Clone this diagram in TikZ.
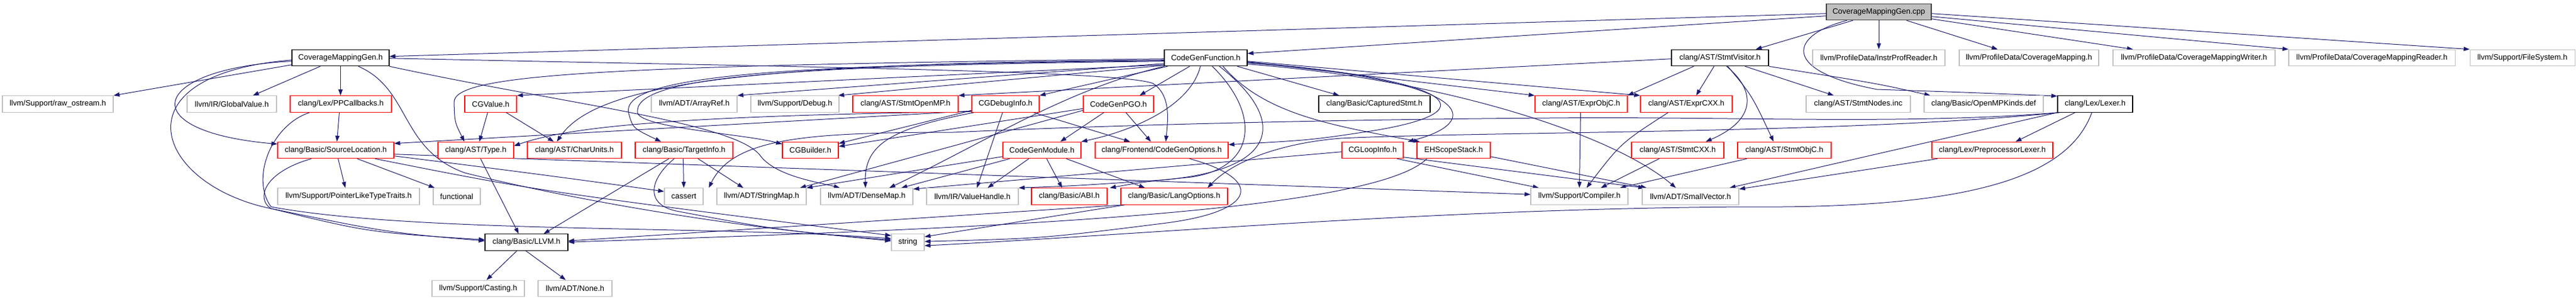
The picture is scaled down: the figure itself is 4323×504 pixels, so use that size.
\documentclass[tikz,border=0pt]{standalone}
\usepackage{fontspec}
\setmainfont{Liberation Sans}
\usetikzlibrary{arrows.meta,backgrounds}
\definecolor{edgec}{RGB}{25,25,112}
\definecolor{grayb}{RGB}{191,191,191}
\definecolor{rootb}{RGB}{64,64,64}
\begin{document}
\begin{tikzpicture}[x=1pt,y=-1pt,
  box/.style={draw, rectangle, inner sep=0pt, minimum height=27.5pt, line width=1.1pt, font=\fontsize{13}{15}\selectfont, fill=white},
  blk/.style={box, draw=black},
  gry/.style={box, draw=grayb},
  rd/.style={box, draw=red},
  rootn/.style={box, draw=rootb, fill=grayb},
  dep/.style={draw=edgec, line width=1pt, -{Triangle[length=10pt,width=7pt]}},
]
\useasboundingbox (0,0) rectangle (4323,504);
% row 0
\node[rootn, minimum width=176pt] (root) at (3153,20) {CoverageMappingGen.cpp};
% row 1
\node[blk, minimum width=163pt] (cmgh) at (571.5,97) {CoverageMappingGen.h};
\node[blk, minimum width=139pt] (cgf) at (2023.5,97) {CodeGenFunction.h};
\node[blk, minimum width=163pt] (sv) at (2886.5,97) {clang/AST/StmtVisitor.h};
\node[gry, minimum width=222pt] (ipr) at (3153,97) {llvm/ProfileData/InstrProfReader.h};
\node[gry, minimum width=234pt] (cm) at (3405,97) {llvm/ProfileData/CoverageMapping.h};
\node[gry, minimum width=272pt] (cmw) at (3682,97) {llvm/ProfileData/CoverageMappingWriter.h};
\node[gry, minimum width=279pt] (cmr) at (3980.5,97) {llvm/ProfileData/CoverageMappingReader.h};
\node[gry, minimum width=176pt] (fs) at (4233,97) {llvm/Support/FileSystem.h};
% row 2
\node[gry, minimum width=186pt] (raw) at (97,174.5) {llvm/Support/raw\_ostream.h};
\node[gry, minimum width=150pt] (gv) at (389,174.5) {llvm/IR/GlobalValue.h};
\node[rd, minimum width=170pt] (ppc) at (572,174.5) {clang/Lex/PPCallbacks.h};
\node[rd, minimum width=87pt] (cgv) at (823.5,174.5) {CGValue.h};
\node[gry, minimum width=144pt] (aref) at (1165,174.5) {llvm/ADT/ArrayRef.h};
\node[gry, minimum width=148pt] (dbg) at (1334,174.5) {llvm/Support/Debug.h};
\node[rd, minimum width=177pt] (somp) at (1519.5,174.5) {clang/AST/StmtOpenMP.h};
\node[rd, minimum width=113pt] (cgdi) at (1687.5,174.5) {CGDebugInfo.h};
\node[rd, minimum width=118pt] (pgo) at (1877,174.5) {CodeGenPGO.h};
\node[blk, minimum width=187pt] (cap) at (2306.5,174.5) {clang/Basic/CapturedStmt.h};
\node[rd, minimum width=155pt] (eobjc) at (2653.5,174.5) {clang/AST/ExprObjC.h};
\node[rd, minimum width=154pt] (ecxx) at (2830,174.5) {clang/AST/ExprCXX.h};
\node[gry, minimum width=175pt] (snodes) at (3118.5,174.5) {clang/AST/StmtNodes.inc};
\node[gry, minimum width=200pt] (ompdef) at (3329,174.5) {clang/Basic/OpenMPKinds.def};
\node[blk, minimum width=126pt] (lexer) at (3516,174.5) {clang/Lex/Lexer.h};
% row 3
\node[rd, minimum width=195pt] (sloc) at (563.5,252) {clang/Basic/SourceLocation.h};
\node[rd, minimum width=127pt] (type) at (798.5,252) {clang/AST/Type.h};
\node[rd, minimum width=158pt] (cu) at (964,252) {clang/AST/CharUnits.h};
\node[rd, minimum width=164pt] (ti) at (1148,252) {clang/Basic/TargetInfo.h};
\node[rd, minimum width=94pt] (cgb) at (1360,252) {CGBuilder.h};
\node[rd, minimum width=131pt] (cgm) at (1748.5,252) {CodeGenModule.h};
\node[rd, minimum width=223pt] (cgo) at (1949.5,252) {clang/Frontend/CodeGenOptions.h};
\node[rd, minimum width=103pt] (cgli) at (2303.5,252) {CGLoopInfo.h};
\node[rd, minimum width=123pt] (ehs) at (2439.5,252) {EHScopeStack.h};
\node[rd, minimum width=155pt] (scxx) at (2815.5,252) {clang/AST/StmtCXX.h};
\node[rd, minimum width=157pt] (sobjc) at (2994.5,252) {clang/AST/StmtObjC.h};
\node[rd, minimum width=203pt] (ppl) at (3343.5,252) {clang/Lex/PreprocessorLexer.h};
% row 4
\node[gry, minimum width=238pt] (plt) at (585,329.5) {llvm/Support/PointerLikeTypeTraits.h};
\node[gry, minimum width=79pt] (func) at (766.5,329.5) {functional};
\node[gry, minimum width=65pt] (cas) at (1147.5,329.5) {cassert};
\node[gry, minimum width=150pt] (smap) at (1278,329.5) {llvm/ADT/StringMap.h};
\node[gry, minimum width=155pt] (dmap) at (1454.5,329.5) {llvm/ADT/DenseMap.h};
\node[gry, minimum width=154pt] (vh) at (1632,329.5) {llvm/IR/ValueHandle.h};
\node[rd, minimum width=127pt] (abi) at (1794.5,329.5) {clang/Basic/ABI.h};
\node[rd, minimum width=179pt] (lo) at (1970.5,329.5) {clang/Basic/LangOptions.h};
\node[gry, minimum width=163pt] (comp) at (2650.5,329.5) {llvm/Support/Compiler.h};
\node[gry, minimum width=162pt] (svec) at (2837,329.5) {llvm/ADT/SmallVector.h};
% row 5
\node[blk, minimum width=139pt] (llvmh) at (883.5,406.5) {clang/Basic/LLVM.h};
\node[gry, minimum width=55pt] (str) at (1523.5,406.5) {string};
% row 6
\node[gry, minimum width=155pt] (cast) at (802.5,484) {llvm/Support/Casting.h};
\node[gry, minimum width=124pt] (none) at (965,484) {llvm/ADT/None.h};

\begin{pgfonlayer}{background}
% root
\draw[dep] ([yshift=-17pt]root.north west) -- ([yshift=-12pt]cmgh.north east);
\draw[dep] ([yshift=-21pt]root.north west) -- ([yshift=-7pt]cgf.north east);
\draw[dep] ([xshift=45pt]root.south west) -- ([xshift=142pt]sv.north west);
\draw[dep] ([xshift=35pt]root.south west) .. controls (3000,60) and (2990,120) .. (3150,150) .. controls (3300,155) .. ([yshift=-1pt]lexer.north west);
\draw[dep] (root.south) -- (ipr.north);
\draw[dep] ([xshift=135pt]root.south west) -- ([xshift=65pt]cm.north west);
\draw[dep] ([yshift=-26pt]root.north east) -- ([xshift=34pt]cmw.north west);
\draw[dep] ([yshift=-22pt]root.north east) -- (cmr.north west);
\draw[dep] ([yshift=-17pt]root.north east) -- (fs.north west);
% CoverageMappingGen.h
\draw[dep] ([yshift=-26pt]cmgh.north west) -- (raw.north east);
\draw[dep] ([xshift=48pt]cmgh.south west) -- ([xshift=111pt]gv.north west);
\draw[dep] ([xshift=82pt]cmgh.south west) -- ([xshift=85pt]ppc.north west);
\draw[dep] ([yshift=-20pt]cmgh.north west) .. controls (250,115) and (220,220) .. ([yshift=-4pt]sloc.north west);
\draw[dep] ([yshift=-18pt]cmgh.north west) .. controls (190,125) and (260,310) .. (455,350) .. controls (650,390) .. ([yshift=-12pt]llvmh.north west);
\draw[dep] ([yshift=-15pt]cmgh.north east) .. controls (1300,112) and (1880,118) .. (1935,140) .. controls (1965,160) and (1960,200) .. ([xshift=119pt]cgo.north west);
\draw[dep] (cmgh.south east) .. controls (950,175) and (1230,205) .. (1275,260) .. controls (1300,295) and (1370,305) .. ([xshift=33pt]dmap.north west);
\draw[dep] ([xshift=112pt]cmgh.south west) .. controls (690,150) and (670,250) .. (780,290) .. controls (1000,345) and (1300,390) .. ([yshift=-10pt]str.north west);
% PPCallbacks
\draw[dep] ([xshift=83pt]ppc.south west) -- ([xshift=100pt]sloc.north west);
\draw[dep] ([xshift=33pt]ppc.south west) .. controls (455,210) and (420,300) .. (455,347) .. controls (700,392) and (1200,378) .. ([yshift=-8pt]str.north west);
% SourceLocation
\draw[dep] ([xshift=102pt]sloc.south west) -- ([xshift=114pt]plt.north west);
\draw[dep] ([xshift=134pt]sloc.south west) -- ([xshift=3pt]func.north west);
\draw[dep] ([yshift=-24pt]sloc.north east) .. controls (850,285) and (1000,305) .. ([yshift=-6pt]cas.north west);
\draw[dep] ([xshift=164pt]sloc.south west) .. controls (900,320) .. ([yshift=-3pt]str.north west);
\draw[dep] ([yshift=-21pt]sloc.north east) -- ([yshift=-11pt]comp.north west);
\draw[dep] ([xshift=57pt]sloc.south west) .. controls (440,290) and (430,335) .. (455,350) .. controls (620,390) .. ([yshift=-10pt]llvmh.north west);
% Type, CGValue, TargetInfo
\draw[dep] ([xshift=72pt]type.south west) -- ([xshift=57pt]llvmh.north west);
\draw[dep] ([xshift=39pt]cgv.south west) -- ([xshift=70pt]type.north west);
\draw[dep] ([xshift=70pt]cgv.south west) -- ([xshift=45pt]cu.north west);
\draw[dep] ([xshift=57pt]ti.south west) -- ([xshift=99pt]llvmh.north west);
\draw[dep] ([xshift=81pt]ti.south west) -- (cas.north);
\draw[dep] ([xshift=106pt]ti.south west) -- ([xshift=45pt]smap.north west);
\draw[dep] ([xshift=66pt]ti.south west) .. controls (1090,300) and (1080,345) .. (1140,355) .. controls (1300,385) .. ([yshift=-12pt]str.north west);
% CGDebugInfo
\draw[dep] ([yshift=-25pt]cgdi.north west) -- ([yshift=-3pt]cgb.north east);
\draw[dep] ([yshift=-27pt]cgdi.north west) .. controls (1100,195) and (950,215) .. ([yshift=-7pt]type.north east);
\draw[dep] ([yshift=-26pt]cgdi.north west) -- ([yshift=-3pt]sloc.north east);
\draw[dep] ([xshift=104pt]cgdi.south west) -- ([xshift=59pt]cgo.north west);
\draw[dep] ([xshift=4pt]cgdi.south west) .. controls (1500,215) and (1450,240) .. ([xshift=76pt]dmap.north west);
\draw[dep] ([xshift=52pt]cgdi.south west) -- ([xshift=85pt]vh.north west);
% CodeGenPGO
\draw[dep] ([yshift=-22pt]pgo.north west) -- ([yshift=-8pt]cgb.north east);
\draw[dep] ([xshift=35pt]pgo.south west) -- ([xshift=97pt]cgm.north west);
\draw[dep] ([xshift=72pt]pgo.south west) -- ([xshift=94pt]cgo.north west);
\draw[dep] ([yshift=-25pt]pgo.north west) -- ([xshift=140pt]smap.north west);
% CodeGenModule
\draw[dep] ([xshift=12pt]cgm.south west) -- ([xshift=136pt]dmap.north west);
\draw[dep] ([xshift=44pt]cgm.south west) -- ([xshift=103pt]vh.north west);
\draw[dep] ([xshift=74pt]cgm.south west) -- ([xshift=52pt]abi.north west);
\draw[dep] ([xshift=107pt]cgm.south west) -- ([xshift=41pt]lo.north west);
\draw[dep] ([yshift=-25pt]cgm.north west) -- (smap.north east);
% CodeGenOptions, LangOptions
\draw[dep] ([xshift=159pt]cgo.south west) .. controls (2120,300) and (2115,355) .. (1950,375) .. controls (1750,400) .. ([yshift=-13pt]str.north east);
\draw[dep] ([xshift=7pt]lo.south west) -- ([yshift=-5pt]str.north east);
\draw[dep] ([xshift=3pt]lo.south west) -- ([yshift=-12pt]llvmh.north east);
% CGLoopInfo, EHScopeStack
\draw[dep] ([yshift=-17pt]cgli.north west) -- ([yshift=-2pt]dmap.north east);
\draw[dep] ([xshift=93pt]cgli.south west) -- ([xshift=14pt]comp.north west);
\draw[dep] ([yshift=-26pt]cgli.north east) -- ([xshift=4pt]svec.north west);
\draw[dep] ([yshift=-25pt]ehs.north east) -- ([xshift=8pt]svec.north west);
\draw[dep] ([xshift=17pt]ehs.south west) .. controls (2300,360) and (1600,385) .. ([yshift=-14pt]llvmh.north east);
% Expr/Stmt headers
\draw[dep] ([xshift=77pt]eobjc.south west) -- ([xshift=82pt]comp.north west);
\draw[dep] ([xshift=47pt]ecxx.south west) .. controls (2720,240) .. ([xshift=94pt]comp.north west);
\draw[dep] ([xshift=47pt]scxx.south west) -- ([xshift=118pt]comp.north west);
\draw[dep] ([xshift=16pt]sobjc.south west) -- ([xshift=150pt]comp.north west);
% StmtVisitor
\draw[dep] ([yshift=-16pt]sv.north west) -- (somp.north east);
\draw[dep] ([xshift=38pt]sv.south west) -- (eobjc.north east);
\draw[dep] ([xshift=72pt]sv.south west) -- ([xshift=94pt]ecxx.north west);
\draw[dep] ([xshift=93pt]sv.south west) .. controls (2945,150) and (2950,200) .. ([xshift=125pt]scxx.north west);
\draw[dep] ([xshift=95pt]sv.south west) .. controls (2940,160) .. ([xshift=61pt]sobjc.north west);
\draw[dep] ([xshift=124pt]sv.south west) -- ([xshift=47pt]snodes.north west);
\draw[dep] (sv.south east) .. controls (3150,140) .. ([xshift=11pt]ompdef.north west);
% Lexer
\draw[dep] ([xshift=30pt]lexer.south west) -- ([xshift=141pt]ppl.north west);
\draw[dep] (lexer.south west) -- ([xshift=147pt]svec.north west);
\draw[dep] ([xshift=58pt]lexer.south west) .. controls (3470,300) and (3300,350) .. (2930,347) .. controls (2400,350) and (1900,395) .. ([yshift=-20pt]str.north east);
\draw[dep] ([xshift=2pt]lexer.south west) .. controls (3200,210) and (2900,195) .. (2600,198) .. controls (2300,200) and (1900,208) .. (1600,222) .. controls (1350,222) and (1230,232) .. ([xshift=75pt]cas.north west);
\draw[dep] ([xshift=4pt]lexer.south west) .. controls (3100,225) and (2500,220) .. (2250,232) .. controls (2150,240) and (2070,270) .. ([xshift=146pt]lo.north west);
% PreprocessorLexer, LLVM.h
\draw[dep] ([xshift=10pt]ppl.south west) -- ([yshift=-2pt]svec.north east);
\draw[dep] ([xshift=54pt]llvmh.south west) -- ([xshift=92pt]cast.north west);
\draw[dep] ([xshift=69pt]llvmh.south west) -- ([xshift=47pt]none.north west);
% CodeGenFunction
\draw[dep] ([yshift=-20pt]cgf.north west) .. controls (1300,110) and (1060,130) .. (1070,190) .. controls (1080,215) and (1250,225) .. ([yshift=-4pt]cgb.north west);
\draw[dep] ([yshift=-19pt]cgf.north west) .. controls (1300,108) and (1040,128) .. (1055,190) .. controls (1062,215) .. ([xshift=44pt]ti.north west);
\draw[dep] ([yshift=-18pt]cgf.north west) .. controls (1250,106) and (1000,140) .. ([xshift=50pt]cu.north west);
\draw[dep] ([yshift=-16pt]cgf.north west) .. controls (1000,110) and (760,125) .. (762,172) .. controls (763,205) .. ([xshift=45pt]type.north west);
\draw[dep] ([yshift=-26pt]cgf.north west) -- (cgv.north east);
\draw[dep] ([yshift=-24pt]cgf.north west) -- (aref.north east);
\draw[dep] ([yshift=-27pt]cgf.north west) -- ([xshift=-2pt]dbg.north east);
\draw[dep] ([xshift=6pt]cgf.south west) -- (cgdi.north east);
\draw[dep] ([xshift=43pt]cgf.south west) -- ([xshift=95pt]pgo.north west);
\draw[dep] ([xshift=61pt]cgf.south west) .. controls (2000,170) and (1920,215) .. (cgm.north east);
\draw[dep] ([yshift=-22pt]cgf.north east) .. controls (2420,130) and (2520,185) .. (2300,220) .. controls (2200,235) .. ([yshift=-5pt]cgo.north east);
\draw[dep] ([yshift=-23pt]cgf.north east) .. controls (2480,135) and (2490,205) .. ([xshift=111pt]cgli.north west);
\draw[dep] ([xshift=99pt]cgf.south west) .. controls (2120,190) and (2230,210) .. ([xshift=5pt]ehs.north west);
\draw[dep] ([xshift=123pt]cgf.south west) -- ([xshift=35pt]cap.north west);
\draw[dep] ([yshift=-21pt]cgf.north east) -- (eobjc.north west);
\draw[dep] ([yshift=-20pt]cgf.north east) -- (ecxx.north west);
\draw[dep] ([yshift=-25pt]cgf.north east) .. controls (2400,130) and (2700,220) .. ([xshift=57pt]svec.north west);
\draw[dep] ([xshift=81pt]cgf.south west) .. controls (2115,190) and (2110,280) .. (2000,297) .. controls (1920,305) .. ([xshift=132pt]abi.north west);
\draw[dep] ([xshift=93pt]cgf.south west) .. controls (2160,200) and (2150,285) .. (1950,302) .. controls (1800,312) .. (vh.north east);
\draw[dep] (cgf.south west) .. controls (1790,150) and (1650,240) .. ([xshift=116pt]dmap.north west);
\end{pgfonlayer}
\end{tikzpicture}
\end{document}
